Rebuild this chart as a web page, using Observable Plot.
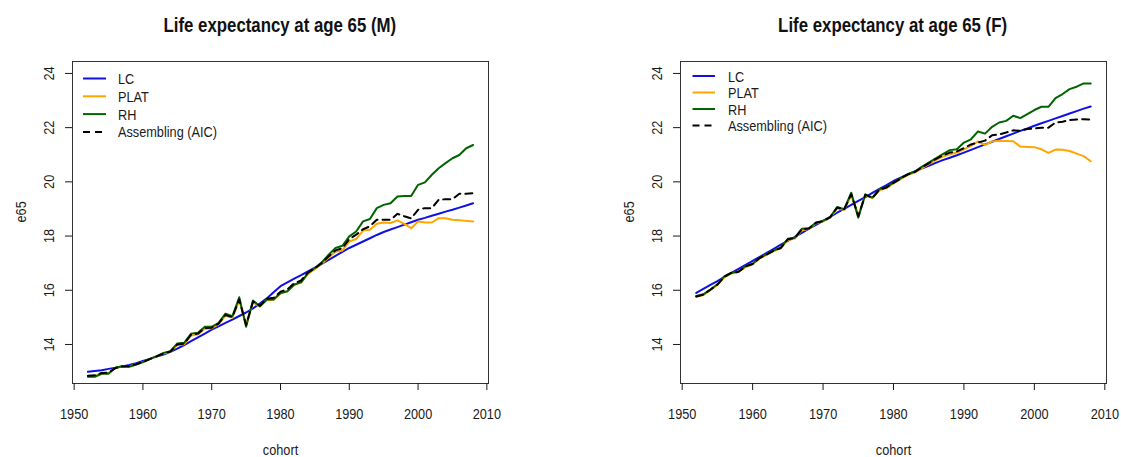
<!DOCTYPE html>
<html>
<head>
<meta charset="utf-8">
<script src="https://cdn.jsdelivr.net/npm/d3@7"></script>
<script src="https://cdn.jsdelivr.net/npm/@observablehq/plot@0.6"></script>
<style>
  body { margin: 0; background: #fff; }
  #wrap { display: flex; width: 1121px; height: 457px; overflow: hidden;
          font-family: "Liberation Sans", Arial, sans-serif; color: #222; }
  .panel { position: relative; }
  .title { height: 40px; box-sizing: border-box; padding-top: 14px; font-size: 20.5px; line-height: 22px;
           font-weight: bold; text-align: center; color: #111; white-space: nowrap; }
  .title span { display: inline-block; transform: scaleX(0.82); transform-origin: center; }
</style>
</head>
<body>
<div id="wrap"></div>
<script>
const FONT = '"Liberation Sans", Arial, sans-serif';
const NARROW = 0.82; // horizontal condensing of the sans face

// Cohorts 1952–2008
const years = d3.range(1952, 2009);
const xTicks = [1950, 1960, 1970, 1980, 1990, 2000, 2010];
const yTicks = [14, 16, 18, 20, 22, 24];
const xDomain = [1949.76, 2010.24];
const yDomain = [12.56, 24.44];

const models = ["LC", "PLAT", "RH", "Assembling (AIC)"];
const colors = ["#1010e6", "#ffa500", "#006400", "#000000"];

// Males: e65 by cohort
const lcM = [12.99, 13.02, 13.05, 13.10, 13.14, 13.19, 13.24, 13.31, 13.39,
  13.47, 13.55, 13.63, 13.73, 13.85, 13.98, 14.12, 14.26, 14.40, 14.55,
  14.67, 14.80, 14.92, 15.05, 15.18, 15.33, 15.51, 15.70, 15.93, 16.15,
  16.29, 16.43, 16.56, 16.70, 16.83, 16.97, 17.12, 17.27, 17.42, 17.56,
  17.68, 17.80, 17.92, 18.04, 18.15, 18.24, 18.33, 18.42, 18.51, 18.60,
  18.67, 18.75, 18.82, 18.90, 18.97, 19.05, 19.13, 19.21];
const platM = [12.83, 12.84, 12.93, 12.95, 13.13, 13.19, 13.19, 13.27, 13.35,
  13.46, 13.56, 13.67, 13.73, 13.98, 14.01, 14.33, 14.37, 14.58, 14.60,
  14.74, 15.06, 14.99, 15.62, 14.75, 15.55, 15.40, 15.63, 15.65, 15.88,
  15.96, 16.19, 16.29, 16.60, 16.78, 16.98, 17.22, 17.42, 17.47, 17.80,
  17.89, 18.20, 18.23, 18.45, 18.50, 18.48, 18.58, 18.45, 18.29, 18.54,
  18.50, 18.50, 18.66, 18.66, 18.60, 18.58, 18.56, 18.54];
const rhM = [12.81, 12.81, 12.92, 12.92, 13.14, 13.20, 13.18, 13.26, 13.35,
  13.47, 13.57, 13.69, 13.75, 14.04, 14.06, 14.40, 14.43, 14.65, 14.65,
  14.80, 15.14, 15.04, 15.74, 14.65, 15.62, 15.41, 15.66, 15.66, 15.90,
  15.96, 16.21, 16.29, 16.64, 16.82, 17.03, 17.31, 17.56, 17.64, 17.99,
  18.17, 18.54, 18.63, 19.03, 19.15, 19.21, 19.46, 19.48, 19.48, 19.89,
  19.98, 20.26, 20.50, 20.69, 20.87, 20.99, 21.24, 21.36];
const aicM = [12.85, 12.86, 12.95, 12.96, 13.13, 13.19, 13.20, 13.27, 13.35,
  13.46, 13.56, 13.67, 13.74, 14.00, 14.03, 14.36, 14.40, 14.61, 14.62,
  14.77, 15.09, 15.01, 15.66, 14.72, 15.58, 15.43, 15.68, 15.72, 15.95,
  16.03, 16.26, 16.36, 16.66, 16.81, 17.00, 17.25, 17.47, 17.55, 17.89,
  18.05, 18.25, 18.36, 18.60, 18.60, 18.60, 18.82, 18.73, 18.65, 18.97,
  19.03, 19.03, 19.34, 19.36, 19.36, 19.56, 19.56, 19.58];

// Females: e65 by cohort
const lcF = [15.90, 16.05, 16.20, 16.34, 16.49, 16.64, 16.79, 16.94, 17.08,
  17.23, 17.38, 17.53, 17.68, 17.82, 17.97, 18.12, 18.27, 18.41, 18.56,
  18.71, 18.86, 19.00, 19.15, 19.30, 19.44, 19.59, 19.74, 19.88, 20.03,
  20.15, 20.27, 20.38, 20.49, 20.59, 20.70, 20.80, 20.89, 20.98, 21.08,
  21.18, 21.28, 21.38, 21.48, 21.58, 21.68, 21.78, 21.88, 21.97, 22.07,
  22.16, 22.25, 22.34, 22.43, 22.52, 22.61, 22.70, 22.78];
const platF = [15.75, 15.82, 16.00, 16.20, 16.48, 16.62, 16.67, 16.86, 16.96,
  17.17, 17.31, 17.45, 17.55, 17.85, 17.91, 18.22, 18.26, 18.47, 18.54,
  18.68, 19.02, 18.97, 19.50, 18.78, 19.50, 19.40, 19.69, 19.77, 19.94,
  20.10, 20.25, 20.34, 20.50, 20.65, 20.80, 20.93, 21.02, 21.08, 21.20,
  21.33, 21.49, 21.36, 21.49, 21.52, 21.51, 21.50, 21.30, 21.29, 21.28,
  21.20, 21.07, 21.19, 21.18, 21.14, 21.04, 20.95, 20.76];
const rhF = [15.79, 15.85, 16.03, 16.22, 16.52, 16.65, 16.69, 16.89, 16.98,
  17.20, 17.33, 17.47, 17.57, 17.90, 17.94, 18.27, 18.29, 18.50, 18.56,
  18.70, 19.07, 18.99, 19.60, 18.68, 19.54, 19.42, 19.73, 19.81, 19.97,
  20.13, 20.28, 20.37, 20.55, 20.71, 20.87, 21.02, 21.17, 21.20, 21.45,
  21.57, 21.86, 21.78, 22.03, 22.19, 22.25, 22.44, 22.35, 22.50, 22.65,
  22.77, 22.77, 23.09, 23.24, 23.42, 23.51, 23.63, 23.63];
const aicF = [15.77, 15.84, 16.02, 16.21, 16.50, 16.64, 16.68, 16.88, 16.97,
  17.19, 17.32, 17.46, 17.56, 17.88, 17.93, 18.25, 18.28, 18.49, 18.55,
  18.69, 19.05, 18.98, 19.55, 18.73, 19.52, 19.41, 19.71, 19.79, 19.96,
  20.12, 20.27, 20.36, 20.53, 20.68, 20.84, 20.97, 21.08, 21.12, 21.25,
  21.38, 21.45, 21.52, 21.72, 21.75, 21.82, 21.90, 21.88, 21.95, 21.97,
  22.00, 22.00, 22.19, 22.22, 22.28, 22.30, 22.31, 22.30];

// Legend drawn inside the top-left corner of the frame
function legend({dx, dy, step, lineLen, textGap}) {
  return (index, scales, values, dimensions) => {
    const g = d3.create("svg:g").attr("font-size", 15.5).attr("fill", "#1a1a1a").attr("text-anchor", "start");
    const x0 = dimensions.marginLeft + dx;
    const y0 = dimensions.marginTop + dy;
    models.forEach((name, i) => {
      const y = y0 + i * step;
      g.append("line")
        .attr("x1", x0).attr("x2", x0 + lineLen).attr("y1", y).attr("y2", y)
        .attr("stroke", colors[i]).attr("stroke-width", 2)
        .attr("stroke-dasharray", i === 3 ? "7,5" : null);
      g.append("text").attr("x", x0 + textGap).attr("y", y).attr("dy", "0.36em").text(name);
    });
    return g.node();
  };
}

// Squeeze every label horizontally so the face reads as a narrow sans
function condense(svg, k) {
  svg.querySelectorAll("text").forEach(t => {
    const len = t.getComputedTextLength();
    if (len > 0) {
      t.setAttribute("textLength", (len * k).toFixed(2));
      t.setAttribute("lengthAdjust", "spacingAndGlyphs");
    }
  });
}

function panel({title, series, width, marginLeft, marginRight, leg}) {
  const div = document.createElement("div");
  div.className = "panel";
  div.style.width = width + "px";

  const t = document.createElement("div");
  t.className = "title";
  t.style.marginLeft = marginLeft + "px";
  t.style.width = (width - marginLeft - marginRight) + "px";
  const span = document.createElement("span");
  span.textContent = title;
  t.appendChild(span);
  div.appendChild(t);

  const chart = Plot.plot({
    width, height: 417,
    marginTop: 21, marginBottom: 74, marginLeft, marginRight,
    style: {fontFamily: FONT, fontSize: "15.5px", color: "#1a1a1a", background: "transparent", overflow: "visible"},
    x: {domain: xDomain},
    y: {domain: yDomain},
    marks: [
      Plot.frame({stroke: "#333"}),
      Plot.axisX({ticks: xTicks, tickSize: 7, tickPadding: 17.5, tickFormat: d => String(d), label: null}),
      Plot.axisY({ticks: yTicks, tickSize: 7, tickRotate: -90, tickPadding: 12, label: null}),
      Plot.text(["cohort"], {frameAnchor: "bottom", dy: 67, lineAnchor: "middle"}),
      Plot.text(["e65"], {frameAnchor: "left", dx: -51, rotate: -90, lineAnchor: "middle"}),
      ...series.map((vals, i) => Plot.line(vals, {
        x: (d, j) => years[j], y: d => d,
        stroke: colors[i], strokeWidth: 2,
        strokeDasharray: i === 3 ? "7,5" : null
      })),
      legend(leg)
    ]
  });
  div.appendChild(chart);
  return {div, chart};
}

const wrap = document.getElementById("wrap");
const panels = [
  panel({
    title: "Life expectancy at age 65 (M)",
    series: [lcM, platM, rhM, aicM],
    width: 560, marginLeft: 72, marginRight: 72,
    leg: {dx: 11, dy: 17.5, step: 17.8, lineLen: 23, textGap: 35}
  }),
  panel({
    title: "Life expectancy at age 65 (F)",
    series: [lcF, platF, rhF, aicF],
    width: 561, marginLeft: 120, marginRight: 15,
    leg: {dx: 12.5, dy: 15, step: 16.5, lineLen: 22.5, textGap: 35.5}
  })
];
panels.forEach(p => wrap.appendChild(p.div));
panels.forEach(p => condense(p.chart, NARROW));
</script>
</body>
</html>
